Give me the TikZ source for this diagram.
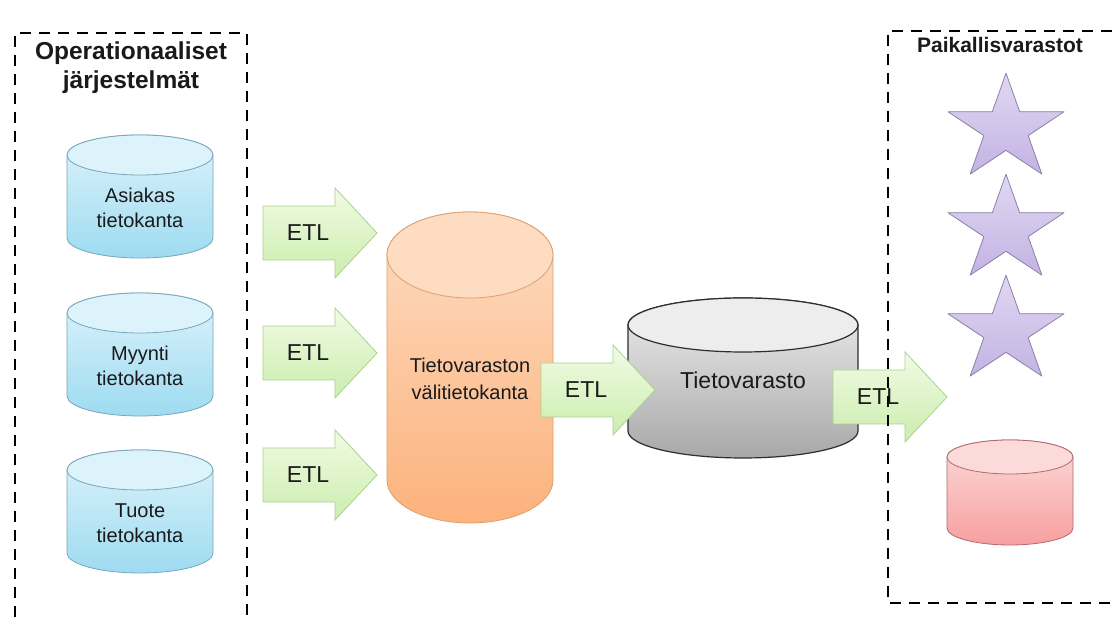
\documentclass[tikz,border=0pt]{standalone}
\usepackage{fontspec}
\setmainfont{Liberation Sans}
\definecolor{txt}{HTML}{1A1A1A}
\definecolor{bluetop}{HTML}{DDF3FB}
\definecolor{bluebot}{HTML}{9EDBF1}
\definecolor{blueline}{HTML}{77A7BA}
\definecolor{orgtop}{HTML}{FDDCC2}
\definecolor{orgbot}{HTML}{FCB27C}
\definecolor{orgline}{HTML}{DDA06E}
\definecolor{graytop}{HTML}{EDEDED}
\definecolor{graybot}{HTML}{A8A8A8}
\definecolor{grayline}{HTML}{2E2E2E}
\definecolor{pinktop}{HTML}{FCDADA}
\definecolor{pinkbot}{HTML}{F7A0A0}
\definecolor{pinkline}{HTML}{B06A6A}
\definecolor{startop}{HTML}{E0D8F2}
\definecolor{starbot}{HTML}{C3B3E3}
\definecolor{starline}{HTML}{8C80A8}
\definecolor{etltop}{HTML}{F1FBE4}
\definecolor{etlbot}{HTML}{CBEDAE}
\definecolor{etlline}{HTML}{A9D38A}
% cylinder: #1 left x, #2 right x, #3 top y, #4 bottom y, #5 ellipse ry, #6 body style, #7 lid style
\newcommand\mydbcyl[7]{%
  \path[#6] (#1,#3-#5) -- (#1,#4+#5)
    arc[start angle=180,end angle=360,x radius={(#2-#1)/2},y radius=#5]
    -- (#2,#3-#5)
    arc[start angle=0,end angle=180,x radius={(#2-#1)/2},y radius=#5] -- cycle;
  \path[#7] ({(#1+#2)/2},#3-#5) ellipse[x radius={(#2-#1)/2},y radius=#5];
}
% block arrow: #1 name, #2 left x, #3 centre y
\newcommand\myetl[3]{%
  \path[etlarrow] (#2,#3+27) -- (#2+72,#3+27) -- (#2+72,#3+45) -- (#2+114,#3)
    -- (#2+72,#3-45) -- (#2+72,#3-27) -- (#2,#3-27) -- cycle;
  \node[etltext] (#1) at (#2+45,#3) {ETL};
}
% star: #1 centre x, #2 centre y
\newcommand\mystar[2]{%
  \path[starshape,shift={(#1,#2)},yscale=0.915]
    (90:61) -- (126:23.3) -- (162:61) -- (198:23.3) -- (234:61) -- (270:23.3)
    -- (306:61) -- (342:23.3) -- (18:61) -- (54:23.3) -- cycle;
}
\begin{document}
\begin{tikzpicture}[x=1pt,y=1pt,
  lbl/.style={font=\fontsize{20}{25}\selectfont, text=txt, align=center, inner sep=0pt},
  bigtitle/.style={font=\bfseries\fontsize{24.5}{29}\selectfont, text=txt, align=center, inner sep=0pt},
  smalltitle/.style={font=\bfseries\fontsize{21}{25}\selectfont, text=txt, align=center, inner sep=0pt},
  etltext/.style={font=\fontsize{23}{27}\selectfont, text=txt, inner sep=0pt},
  etlarrow/.style={draw=etlline, line width=0.8pt, top color=etltop, bottom color=etlbot},
  bluebody/.style={draw=blueline, line width=0.8pt, top color=bluetop, bottom color=bluebot},
  bluelid/.style={draw=blueline, line width=0.8pt, fill=bluetop},
  orgbody/.style={draw=orgline, line width=0.8pt, top color=orgtop, bottom color=orgbot},
  orglid/.style={draw=orgline, line width=0.8pt, fill=orgtop},
  graybody/.style={draw=grayline, line width=1.2pt, top color=graytop, bottom color=graybot},
  graylid/.style={draw=grayline, line width=1.2pt, fill=graytop},
  pinkbody/.style={draw=pinkline, line width=0.8pt, top color=pinktop, bottom color=pinkbot},
  pinklid/.style={draw=pinkline, line width=0.8pt, fill=pinktop},
  starshape/.style={draw=starline, line width=0.8pt, line join=round, top color=startop, bottom color=starbot},
  groupbox/.style={draw=black, line width=2.8pt, dash pattern=on 11pt off 8pt}
]
\useasboundingbox (0,0) rectangle (1112,617);
\fill[white] (0,0) rectangle (1112,617);

% operational databases
\mydbcyl{67}{213}{482}{359}{20}{bluebody}{bluelid}
\node[lbl] (asiakas) at (140,409) {Asiakas\\tietokanta};
\mydbcyl{67}{213}{324}{201}{20}{bluebody}{bluelid}
\node[lbl] (myynti) at (140,251) {Myynti\\tietokanta};
\mydbcyl{67}{213}{167}{44}{20}{bluebody}{bluelid}
\node[lbl] (tuote) at (140,94) {Tuote\\tietokanta};

% staging database
\mydbcyl{387}{553}{405}{94}{43}{orgbody}{orglid}
\node[lbl, font=\fontsize{20}{27}\selectfont] (valitk) at (470,238) {Tietovaraston\\välitietokanta};

% data warehouse
\mydbcyl{628}{858}{319}{159}{27}{graybody}{graylid}
\node[lbl, font=\fontsize{23}{27}\selectfont] (tv) at (743,237) {Tietovarasto};

% data marts
\mystar{1006}{488}
\mystar{1006}{387}
\mystar{1006}{286}
\mydbcyl{947}{1073}{177}{72}{17}{pinkbody}{pinklid}

% ETL arrows
\myetl{etla}{263}{384}
\myetl{etlb}{263}{264}
\myetl{etlc}{263}{142}
\myetl{etld}{541}{227}
\myetl{etle}{833}{220}

% group boxes
\draw[groupbox] (15,0) -- (15,584) -- (247,584) -- (247,0);
\draw[groupbox] (1112,586) -- (888,586) -- (888,14) -- (1112,14);
\node[bigtitle] (optitle) at (131,549) {Operationaaliset\\järjestelmät};
\node[smalltitle] (pktitle) at (1000,572) {Paikallisvarastot};
\end{tikzpicture}
\end{document}
